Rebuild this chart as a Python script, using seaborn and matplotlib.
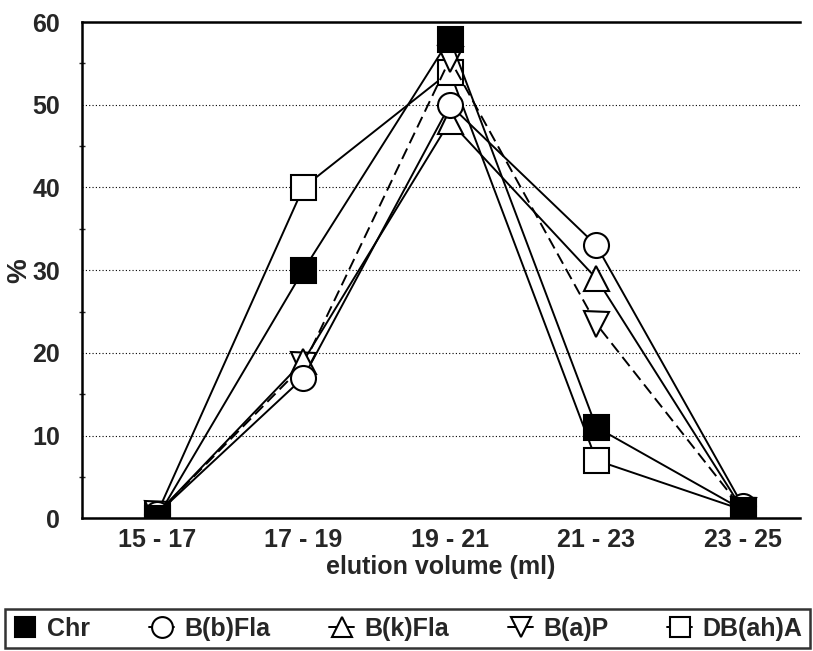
import pandas as pd
import matplotlib
matplotlib.use("Agg")
import matplotlib.pyplot as plt
import seaborn as sns
from matplotlib.lines import Line2D
from matplotlib.ticker import MultipleLocator

# elution fractions and % recovered per compound
fractions = ["15 - 17", "17 - 19", "19 - 21", "21 - 23", "23 - 25"]
chr_vals = [0, 30, 58, 11, 1]
bbfla_vals = [0.5, 17, 50, 33, 1.5]
bkfla_vals = [0.5, 19, 48, 29, 1]
bap_vals = [0.5, 18.5, 55.5, 23.5, 1]
dbaha_vals = [0.5, 40, 54, 7, 1]

series = {
    "Chr": chr_vals,
    "B(b)Fla": bbfla_vals,
    "B(k)Fla": bkfla_vals,
    "B(a)P": bap_vals,
    "DB(ah)A": dbaha_vals,
}
rows = []
for name, vals in series.items():
    for i, v in enumerate(vals):
        rows.append({"compound": name, "pos": i, "pct": v})
df = pd.DataFrame(rows)

sns.set_style("white")
plt.rcParams["font.family"] = ["Liberation Sans", "DejaVu Sans"]
plt.rcParams["font.weight"] = "bold"

styles = {
    "Chr": dict(marker="s", mfc="black", ls="-"),
    "B(b)Fla": dict(marker="o", mfc="white", ls="-"),
    "B(k)Fla": dict(marker="^", mfc="white", ls="-"),
    "B(a)P": dict(marker="v", mfc="white", ls=(0, (6, 3))),
    "DB(ah)A": dict(marker="s", mfc="white", ls="-"),
}

fig = plt.figure(figsize=(8.13, 6.51), dpi=100)
ax = fig.add_axes([0.101, 0.204, 0.883, 0.762])

# draw in reverse so Chr ends up on top
for name in ["DB(ah)A", "B(a)P", "B(k)Fla", "B(b)Fla", "Chr"]:
    st = styles[name]
    sub = df[df.compound == name]
    sns.lineplot(data=sub, x="pos", y="pct", ax=ax, color="black", lw=1.4,
                 linestyle=st["ls"], marker=st["marker"], markersize=18,
                 markerfacecolor=st["mfc"], markeredgecolor="black",
                 markeredgewidth=1.5, legend=False)

ax.set_xlim(-0.51, 4.39)
ax.set_ylim(0, 60)
ax.set_xticks(range(len(fractions)))
ax.set_xticklabels(fractions, fontsize=18, fontweight="bold")
ax.yaxis.set_major_locator(MultipleLocator(10))
ax.yaxis.set_minor_locator(MultipleLocator(5))
ax.tick_params(axis="y", labelsize=18, direction="inout", length=8, width=1.2, pad=12)
ax.tick_params(axis="y", which="minor", direction="inout", length=5, width=1.0, left=True)
ax.tick_params(axis="x", direction="inout", length=8, width=1.2, labelsize=18, pad=3)
for lab in ax.get_yticklabels():
    lab.set_fontweight("bold")
ax.yaxis.grid(True, linestyle=(0, (1, 2)), color="black", lw=0.8)
ax.set_axisbelow(True)

for side in ["left", "bottom", "top"]:
    ax.spines[side].set_color("black")
    ax.spines[side].set_linewidth(1.8)
ax.spines["right"].set_visible(False)

ax.set_xlabel("elution volume (ml)", fontsize=18, fontweight="bold", labelpad=2)
ax.set_ylabel("%", fontsize=20, fontweight="bold", labelpad=0)

handles = []
for name in series:
    st = styles[name]
    handles.append(Line2D([0], [0], color="black", lw=1.4,
                          ls="-" if name != "Chr" else "none",
                          marker=st["marker"], markersize=15,
                          markerfacecolor=st["mfc"], markeredgecolor="black",
                          markeredgewidth=1.5))
leg = fig.legend(handles, list(series.keys()), loc="lower left",
                 bbox_to_anchor=(0.006, 0.004, 0.99, 0.06), mode="expand",
                 ncol=5, frameon=True, fancybox=False, edgecolor="black",
                 handlelength=1.0, handletextpad=0.4, borderpad=0.3,
                 borderaxespad=0, prop={"size": 18, "weight": "bold"})
leg.get_frame().set_linewidth(1.8)

fig.savefig("out.png", dpi=100)
